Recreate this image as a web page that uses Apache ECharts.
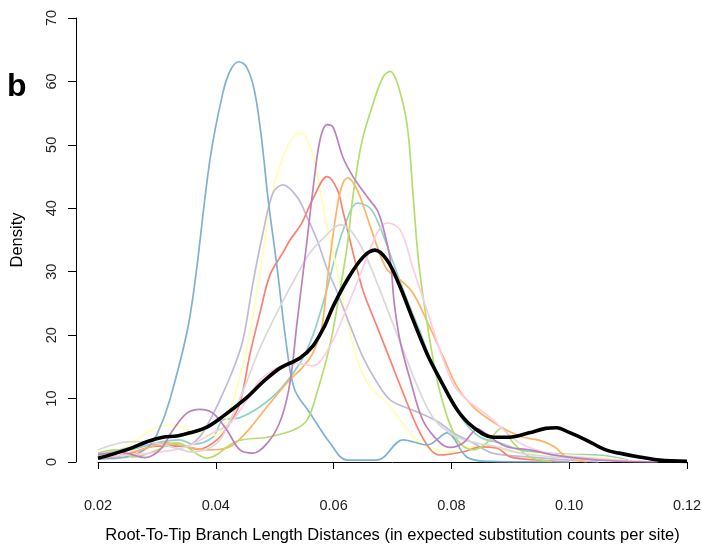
<!DOCTYPE html>
<html lang="en">
<head>
    <meta charset="UTF-8">
    <title>Root-To-Tip densities</title>
    <script src="https://cdn.jsdelivr.net/npm/echarts@6/dist/echarts.min.js"></script>
    <style>
        html, body { margin: 0; padding: 0; background: #fff; }
        #chart { width: 702px; height: 545px; }
    </style>
</head>
<body>
    <div id="chart"></div>
    <script>
        // density curves as [distance, density]
        var teal = [[0.020,0.8],[0.0254,1.9],[0.031,3.2],[0.0339,3.5],[0.0361,2.8],[0.0395,3.9],[0.0412,6.6],[0.0441,7.0],[0.0475,8.7],[0.0509,11.4],[0.0543,15.6],[0.0565,20],[0.0585,26],[0.0599,31],[0.0616,36.5],[0.0641,40.8],[0.0662,40],[0.0679,37],[0.0701,31.5],[0.0725,25.5],[0.0747,20.5],[0.0769,15],[0.0793,10.9],[0.082,6.6],[0.0849,3.9],[0.0883,3.0],[0.0916,1.9],[0.095,1.5],[0.100,1.2],[0.105,1.1],[0.110,0.3]];
        var yellow = [[0.020,0.8],[0.025,2.5],[0.030,5.5],[0.0327,5.8],[0.0356,5.0],[0.039,4.2],[0.0407,4.6],[0.0424,8.2],[0.0441,13.4],[0.0458,20.3],[0.048,33],[0.0497,42.9],[0.0514,48],[0.0531,51.2],[0.0545,51.9],[0.056,49.7],[0.0572,45.6],[0.0582,40.2],[0.0594,35],[0.0611,28],[0.0623,22.4],[0.064,16.1],[0.0662,11.8],[0.0691,9.3],[0.0718,6.0],[0.0747,3.0],[0.0776,2.0],[0.080,1.6],[0.0826,2.4],[0.086,2.4],[0.090,1.6],[0.0996,1.1],[0.105,0.8],[0.110,0.2]];
        var lavender = [[0.020,1.0],[0.025,2.2],[0.030,2.8],[0.035,2.5],[0.0373,4.0],[0.039,6.6],[0.0407,9.8],[0.0429,14.5],[0.0446,19.2],[0.0463,28.2],[0.048,36.1],[0.0497,42.4],[0.0514,43.7],[0.0538,41.8],[0.0555,38.6],[0.0572,35],[0.0588,30.7],[0.0606,26.8],[0.0628,21.5],[0.065,16.5],[0.0674,12.5],[0.0696,9.8],[0.0725,8.5],[0.0752,7.5],[0.078,6.2],[0.0803,4.6],[0.0837,3.0],[0.087,1.4],[0.093,0.8],[0.100,0.3],[0.105,0]];
        var salmon = [[0.020,0.5],[0.025,1.2],[0.030,2.5],[0.034,2.5],[0.037,2.0],[0.0402,3.5],[0.0424,6.1],[0.0441,9.3],[0.0458,17],[0.0475,23.5],[0.0492,29.5],[0.0514,33],[0.0526,35],[0.0545,37.5],[0.0565,41.5],[0.0589,45.0],[0.0606,43],[0.0616,39.5],[0.0633,33],[0.065,27],[0.0674,21.3],[0.0696,16.1],[0.0718,10.9],[0.0742,5.5],[0.0764,2.0],[0.078,1.1],[0.082,1.6],[0.085,2.4],[0.0877,2.2],[0.090,0.8],[0.095,0.3],[0.100,0]];
        var blue = [[0.020,0.5],[0.025,0.8],[0.0283,2.2],[0.030,4.3],[0.0322,9.8],[0.0356,22.9],[0.039,47.6],[0.0412,58.2],[0.0425,61.8],[0.0439,63.1],[0.0452,62.3],[0.0465,58.8],[0.0477,51.5],[0.0489,41.3],[0.0504,30.7],[0.0521,17.7],[0.0534,11.4],[0.056,7.7],[0.0594,3.0],[0.0623,0.3],[0.0674,0.3],[0.0718,3.5],[0.0759,2.7],[0.0793,4.6],[0.0826,0.8],[0.0866,0.1],[0.100,0]];
        var orange = [[0.020,0.5],[0.024,1.1],[0.0283,2.2],[0.0317,3.0],[0.035,2.4],[0.039,1.9],[0.0424,2.4],[0.0453,4.8],[0.0487,8.7],[0.0521,12.5],[0.0548,15],[0.0565,17.2],[0.058,21.3],[0.059,29.2],[0.0606,40.2],[0.0616,44],[0.0624,44.8],[0.064,42.9],[0.0657,38.6],[0.0674,34],[0.0691,30.3],[0.0713,28.7],[0.0735,26.6],[0.0762,21.5],[0.0786,16.6],[0.081,11.8],[0.0837,8.7],[0.0866,6.6],[0.0894,5.0],[0.0922,3.9],[0.095,3.4],[0.0975,2.4],[0.0995,0.8],[0.103,0]];
        var green = [[0.020,1.4],[0.023,1.9],[0.026,0.8],[0.029,1.5],[0.0334,3.0],[0.0385,0.6],[0.0436,3.3],[0.0487,3.9],[0.0531,5.0],[0.0555,6.6],[0.0572,11],[0.0594,18.5],[0.0607,25],[0.0623,34],[0.0633,42],[0.0648,50.5],[0.0667,56.5],[0.0684,60.7],[0.0696,61.6],[0.0709,59.5],[0.0725,53],[0.0735,42],[0.0745,31],[0.0762,20],[0.0781,10.9],[0.081,3.5],[0.0837,1.9],[0.086,3.0],[0.0886,5.4],[0.0905,3.0],[0.0933,0.8],[0.097,0.1]];
        var pink = [[0.020,0.8],[0.025,1.1],[0.0288,1.4],[0.0334,2.0],[0.0356,2.6],[0.0395,4.6],[0.0424,6.1],[0.0453,9.8],[0.0475,12.9],[0.0497,14.5],[0.0509,15],[0.0538,15.5],[0.0565,15.2],[0.0594,18.3],[0.0623,24.4],[0.065,30.7],[0.0674,36.1],[0.0691,37.7],[0.0713,36.6],[0.0735,30.5],[0.0759,23.8],[0.0781,17.5],[0.0803,12.3],[0.0826,9.8],[0.0849,8.2],[0.0871,6.6],[0.0894,4.6],[0.0916,3.0],[0.0945,1.9],[0.098,1.1],[0.104,0.6],[0.110,0.2]];
        var grey = [[0.020,1.9],[0.0225,2.7],[0.0254,3.2],[0.0283,3.2],[0.031,2.7],[0.034,2.0],[0.0356,1.6],[0.0385,2.0],[0.0407,3.5],[0.0424,6.5],[0.0441,10],[0.0458,14],[0.0475,18],[0.0509,24.5],[0.0536,29.2],[0.056,33],[0.0585,35.5],[0.0611,37.4],[0.0628,36.6],[0.065,33.4],[0.0674,28.2],[0.0696,22.9],[0.0718,17.7],[0.0742,12],[0.0772,6.6],[0.081,3.9],[0.0843,3.0],[0.0877,2.4],[0.0916,1.4],[0.096,0.9],[0.100,0.6],[0.105,0.2]];
        var purple = [[0.020,1.2],[0.024,1.5],[0.028,0.7],[0.0305,1.9],[0.0327,5.0],[0.0351,7.7],[0.0373,8.3],[0.0395,7.7],[0.0419,5.0],[0.0441,1.9],[0.0463,1.4],[0.0492,3.5],[0.0512,7.1],[0.0526,12.5],[0.0538,22],[0.0555,35],[0.0565,43],[0.0577,50.8],[0.0589,53.2],[0.0599,52.8],[0.0616,48],[0.0633,45],[0.0657,41.8],[0.0674,39.7],[0.0684,37],[0.0696,32],[0.0703,25],[0.0713,19],[0.073,13],[0.0752,6.5],[0.0781,3.0],[0.0798,2.3],[0.082,3.0],[0.0845,5.2],[0.0866,3.9],[0.0894,2.4],[0.0933,1.9],[0.098,1.0],[0.105,0.3],[0.115,0]];
        var pooled = [[0.020,0.6],[0.0224,1.2],[0.0254,2.1],[0.0283,3.2],[0.031,3.9],[0.0334,4.1],[0.0356,4.6],[0.0385,5.5],[0.0412,7.2],[0.0453,10.2],[0.0481,12.7],[0.0509,14.8],[0.0543,16.4],[0.0565,18.3],[0.0585,21.5],[0.0599,24.5],[0.0623,28.7],[0.065,32.3],[0.067,33.4],[0.0691,31.8],[0.0713,27.6],[0.0735,22.4],[0.0759,17.0],[0.0781,13.0],[0.081,8.2],[0.0837,5.5],[0.0871,3.9],[0.0898,3.9],[0.0932,4.6],[0.096,5.3],[0.0979,5.4],[0.0999,4.7],[0.1028,3.5],[0.1062,1.9],[0.1085,1.4],[0.1119,0.8],[0.1153,0.3],[0.120,0.1]];

        var curves = [teal, yellow, lavender, salmon, blue, orange, green, pink, grey, purple];
        var colorList = ['#8DD3C7','#FFFFB3','#BEBADA','#FB8072','#80B1D3','#FDB462','#B3DE69','#FCCDE5','#D9D9D9','#BC80BD'];

        var series = [];
        for (var i = 0; i < curves.length; i++) {
            series.push({
                type: 'line',
                data: curves[i],
                showSymbol: false,
                smooth: 0.35,
                lineStyle: { color: colorList[i], width: 1.7 },
                silent: true
            });
        }
        // pooled density, drawn last and thick
        series.push({
            type: 'line',
            data: pooled,
            showSymbol: false,
            smooth: 0.35,
            lineStyle: { color: '#000', width: 3.6 },
            silent: true
        });

        var myChart = echarts.init(document.getElementById('chart'), null, { renderer: 'canvas' });
        var axisFont = 'Liberation Sans, Arial, sans-serif';
        myChart.setOption({
            animation: false,
            backgroundColor: '#fff',
            title: {
                text: 'b',
                left: 2,
                top: 66,
                textStyle: { fontFamily: axisFont, fontSize: 32, fontWeight: 'bold', color: '#000' }
            },
            grid: { left: 98, right: 15, top: 18, bottom: 83, containLabel: false, outerBoundsMode: 'none' },
            xAxis: {
                type: 'value',
                min: 0.02,
                max: 0.12,
                interval: 0.02,
                offset: 19,
                name: 'Root-To-Tip Branch Length Distances (in expected substitution counts per site)',
                nameLocation: 'middle',
                nameGap: 46,
                nameTextStyle: { fontFamily: axisFont, fontSize: 16.5, color: '#000' },
                axisLine: { lineStyle: { color: '#000', width: 1 } },
                axisTick: { length: 7, lineStyle: { color: '#000' } },
                axisLabel: {
                    margin: 17,
                    fontFamily: axisFont, fontSize: 14.5, color: '#222',
                    formatter: function (v) { return v.toFixed(2); }
                },
                splitLine: { show: false }
            },
            yAxis: {
                type: 'value',
                min: 0,
                max: 70,
                interval: 10,
                offset: 22,
                name: 'Density',
                nameLocation: 'middle',
                nameGap: 50,
                nameTextStyle: { fontFamily: axisFont, fontSize: 16.5, color: '#000' },
                axisLine: { show: true, lineStyle: { color: '#000', width: 1 } },
                axisTick: { show: true, length: 8, lineStyle: { color: '#000' } },
                axisLabel: { rotate: 90, margin: 17, fontFamily: axisFont, fontSize: 14.5, color: '#222' },
                splitLine: { show: false }
            },
            series: series
        });
    </script>
</body>
</html>
